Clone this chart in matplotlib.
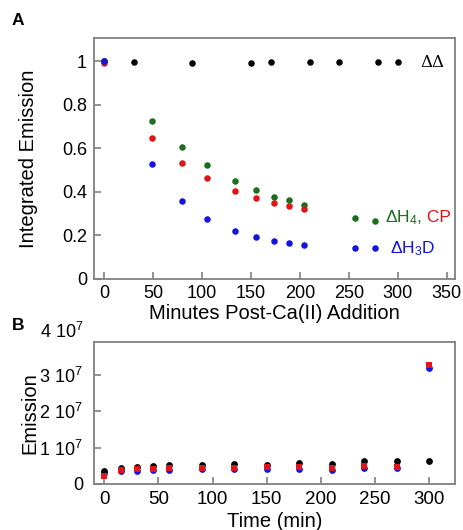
import matplotlib
matplotlib.use('Agg')
import matplotlib.pyplot as plt
import numpy as np

plt.rcParams['font.family'] = ['Liberation Sans', 'DejaVu Sans']
plt.rcParams['mathtext.fontset'] = 'custom'
plt.rcParams['mathtext.rm'] = 'Liberation Sans'
plt.rcParams['mathtext.it'] = 'Liberation Sans'
plt.rcParams['mathtext.bf'] = 'Liberation Sans:bold'

# Panel A: normalized integrated emission vs minutes post-Ca(II) addition
dd_t = [0, 30, 90, 150, 170, 210, 240, 280, 300]
dd_y = [1.0, 0.997, 0.99, 0.99, 0.995, 0.995, 0.995, 0.995, 0.995]

h4_t = [0, 49, 79, 105, 134, 155, 173, 189, 204, 256, 277]
h4_y = [1.0, 0.725, 0.605, 0.524, 0.452, 0.41, 0.378, 0.361, 0.338, 0.28, 0.267]

cp_t = [0, 49, 79, 105, 134, 155, 173, 189, 204]
cp_y = [0.99, 0.647, 0.531, 0.465, 0.406, 0.372, 0.349, 0.335, 0.321]

h3d_t = [0, 49, 79, 105, 134, 155, 173, 189, 204, 256, 277]
h3d_y = [1.0, 0.529, 0.359, 0.276, 0.22, 0.194, 0.174, 0.166, 0.158, 0.143, 0.143]

# Panel B: raw emission vs time
b_t = [0, 15, 30, 45, 60, 90, 120, 150, 180, 210, 240, 270, 300]
b_black = [3.5e6, 4.4e6, 4.7e6, 4.9e6, 5.1e6, 5.1e6, 5.5e6, 5.3e6, 5.8e6, 5.6e6, 6.2e6, 6.2e6, 6.2e6]
b_red = [2.1e6, 3.9e6, 4.1e6, 4.1e6, 4.4e6, 4.4e6, 4.4e6, 4.6e6, 4.6e6, 4.4e6, 4.9e6, 4.8e6, 3.26e7]
b_blue = [3.0e6, 3.7e6, 3.7e6, 3.9e6, 3.9e6, 4.1e6, 4.1e6, 4.1e6, 4.1e6, 3.9e6, 4.4e6, 4.4e6, 3.19e7]

GREEN = '#1b6e1b'
RED = '#e0141a'
BLUE = '#1414e0'
FRAME = '#808080'

fig = plt.figure(figsize=(4.63, 5.30), dpi=100)
ax1 = fig.add_axes([0.203, 0.4736, 0.780, 0.4547])
ax2 = fig.add_axes([0.203, 0.0868, 0.780, 0.268])

for ax in (ax1, ax2):
    for s in ax.spines.values():
        s.set_color(FRAME)
        s.set_linewidth(1.3)
    ax.tick_params(direction='in', length=5, width=1.2, color=FRAME,
                   top=False, right=False, labelsize=13)

# Panel A
ms = 22
ax1.scatter(h4_t, h4_y, s=ms, color=GREEN, zorder=2, linewidths=0)
ax1.scatter(cp_t, cp_y, s=ms, color=RED, zorder=3, linewidths=0)
ax1.scatter(h3d_t, h3d_y, s=ms, color=BLUE, zorder=4, linewidths=0)
ax1.scatter(dd_t, dd_y, s=ms, color='black', zorder=1, linewidths=0)

ax1.set_xlim(-10.5, 358.5)
ax1.set_ylim(0, 1.106)
ax1.set_xticks(np.arange(0, 351, 50))
ax1.set_yticks([0, 0.2, 0.4, 0.6, 0.8, 1.0], ['0', '0.2', '0.4', '0.6', '0.8', '1'])
ax1.tick_params(axis='x', pad=4)
ax1.tick_params(axis='y', pad=5)
ax1.set_xlabel('Minutes Post-Ca(II) Addition', fontsize=14.5, labelpad=2)
ax1.set_ylabel('Integrated Emission', fontsize=14.5)
ax1.yaxis.set_label_coords(-0.155, 0.5)

ax1.text(323, 0.995, 'ΔΔ', fontsize=12, family='DejaVu Serif', va='center', ha='left')
t1 = ax1.text(287, 0.281, 'ΔH$_4$,', color=GREEN, fontsize=12.5, va='center', ha='left')
ax1.annotate(' CP', xy=(1, 0.5), xycoords=t1, color=RED, fontsize=12.5,
             va='center', ha='left')
ax1.text(292, 0.138, 'ΔH$_3$D', color=BLUE, fontsize=12.5, va='center', ha='left')

# Panel B
ax2.scatter(b_t, b_blue, s=24, color=BLUE, marker='o', zorder=1, linewidths=0)
ax2.scatter(b_t, b_black, s=24, color='black', marker='o', zorder=2, linewidths=0)
ax2.scatter(b_t, b_red, s=24, color=RED, marker='s', zorder=3, linewidths=0)

ax2.set_xlim(-9.5, 324)
ax2.set_ylim(0, 3.9e7)
ax2.set_xticks(np.arange(0, 301, 50))
ax2.set_yticks([0, 1e7, 2e7, 3e7], ['0', '1 10$^7$', '2 10$^7$', '3 10$^7$'])
ax2.tick_params(axis='x', pad=5, labelsize=13.5)
ax2.tick_params(axis='y', pad=8, labelsize=13)
ax2.text(-0.03, 1.07, '4 10$^7$', transform=ax2.transAxes, ha='right',
         va='center', fontsize=13)
ax2.set_xlabel('Time (min)', fontsize=14.5, labelpad=3)
ax2.set_ylabel('Emission', fontsize=14.5)
ax2.yaxis.set_label_coords(-0.15, 0.5)

fig.text(0.038, 0.961, 'A', fontsize=12.5, fontweight='bold', ha='center', va='center')
fig.text(0.039, 0.3855, 'B', fontsize=12.5, fontweight='bold', ha='center', va='center')

fig.savefig('out.png', dpi=100)
